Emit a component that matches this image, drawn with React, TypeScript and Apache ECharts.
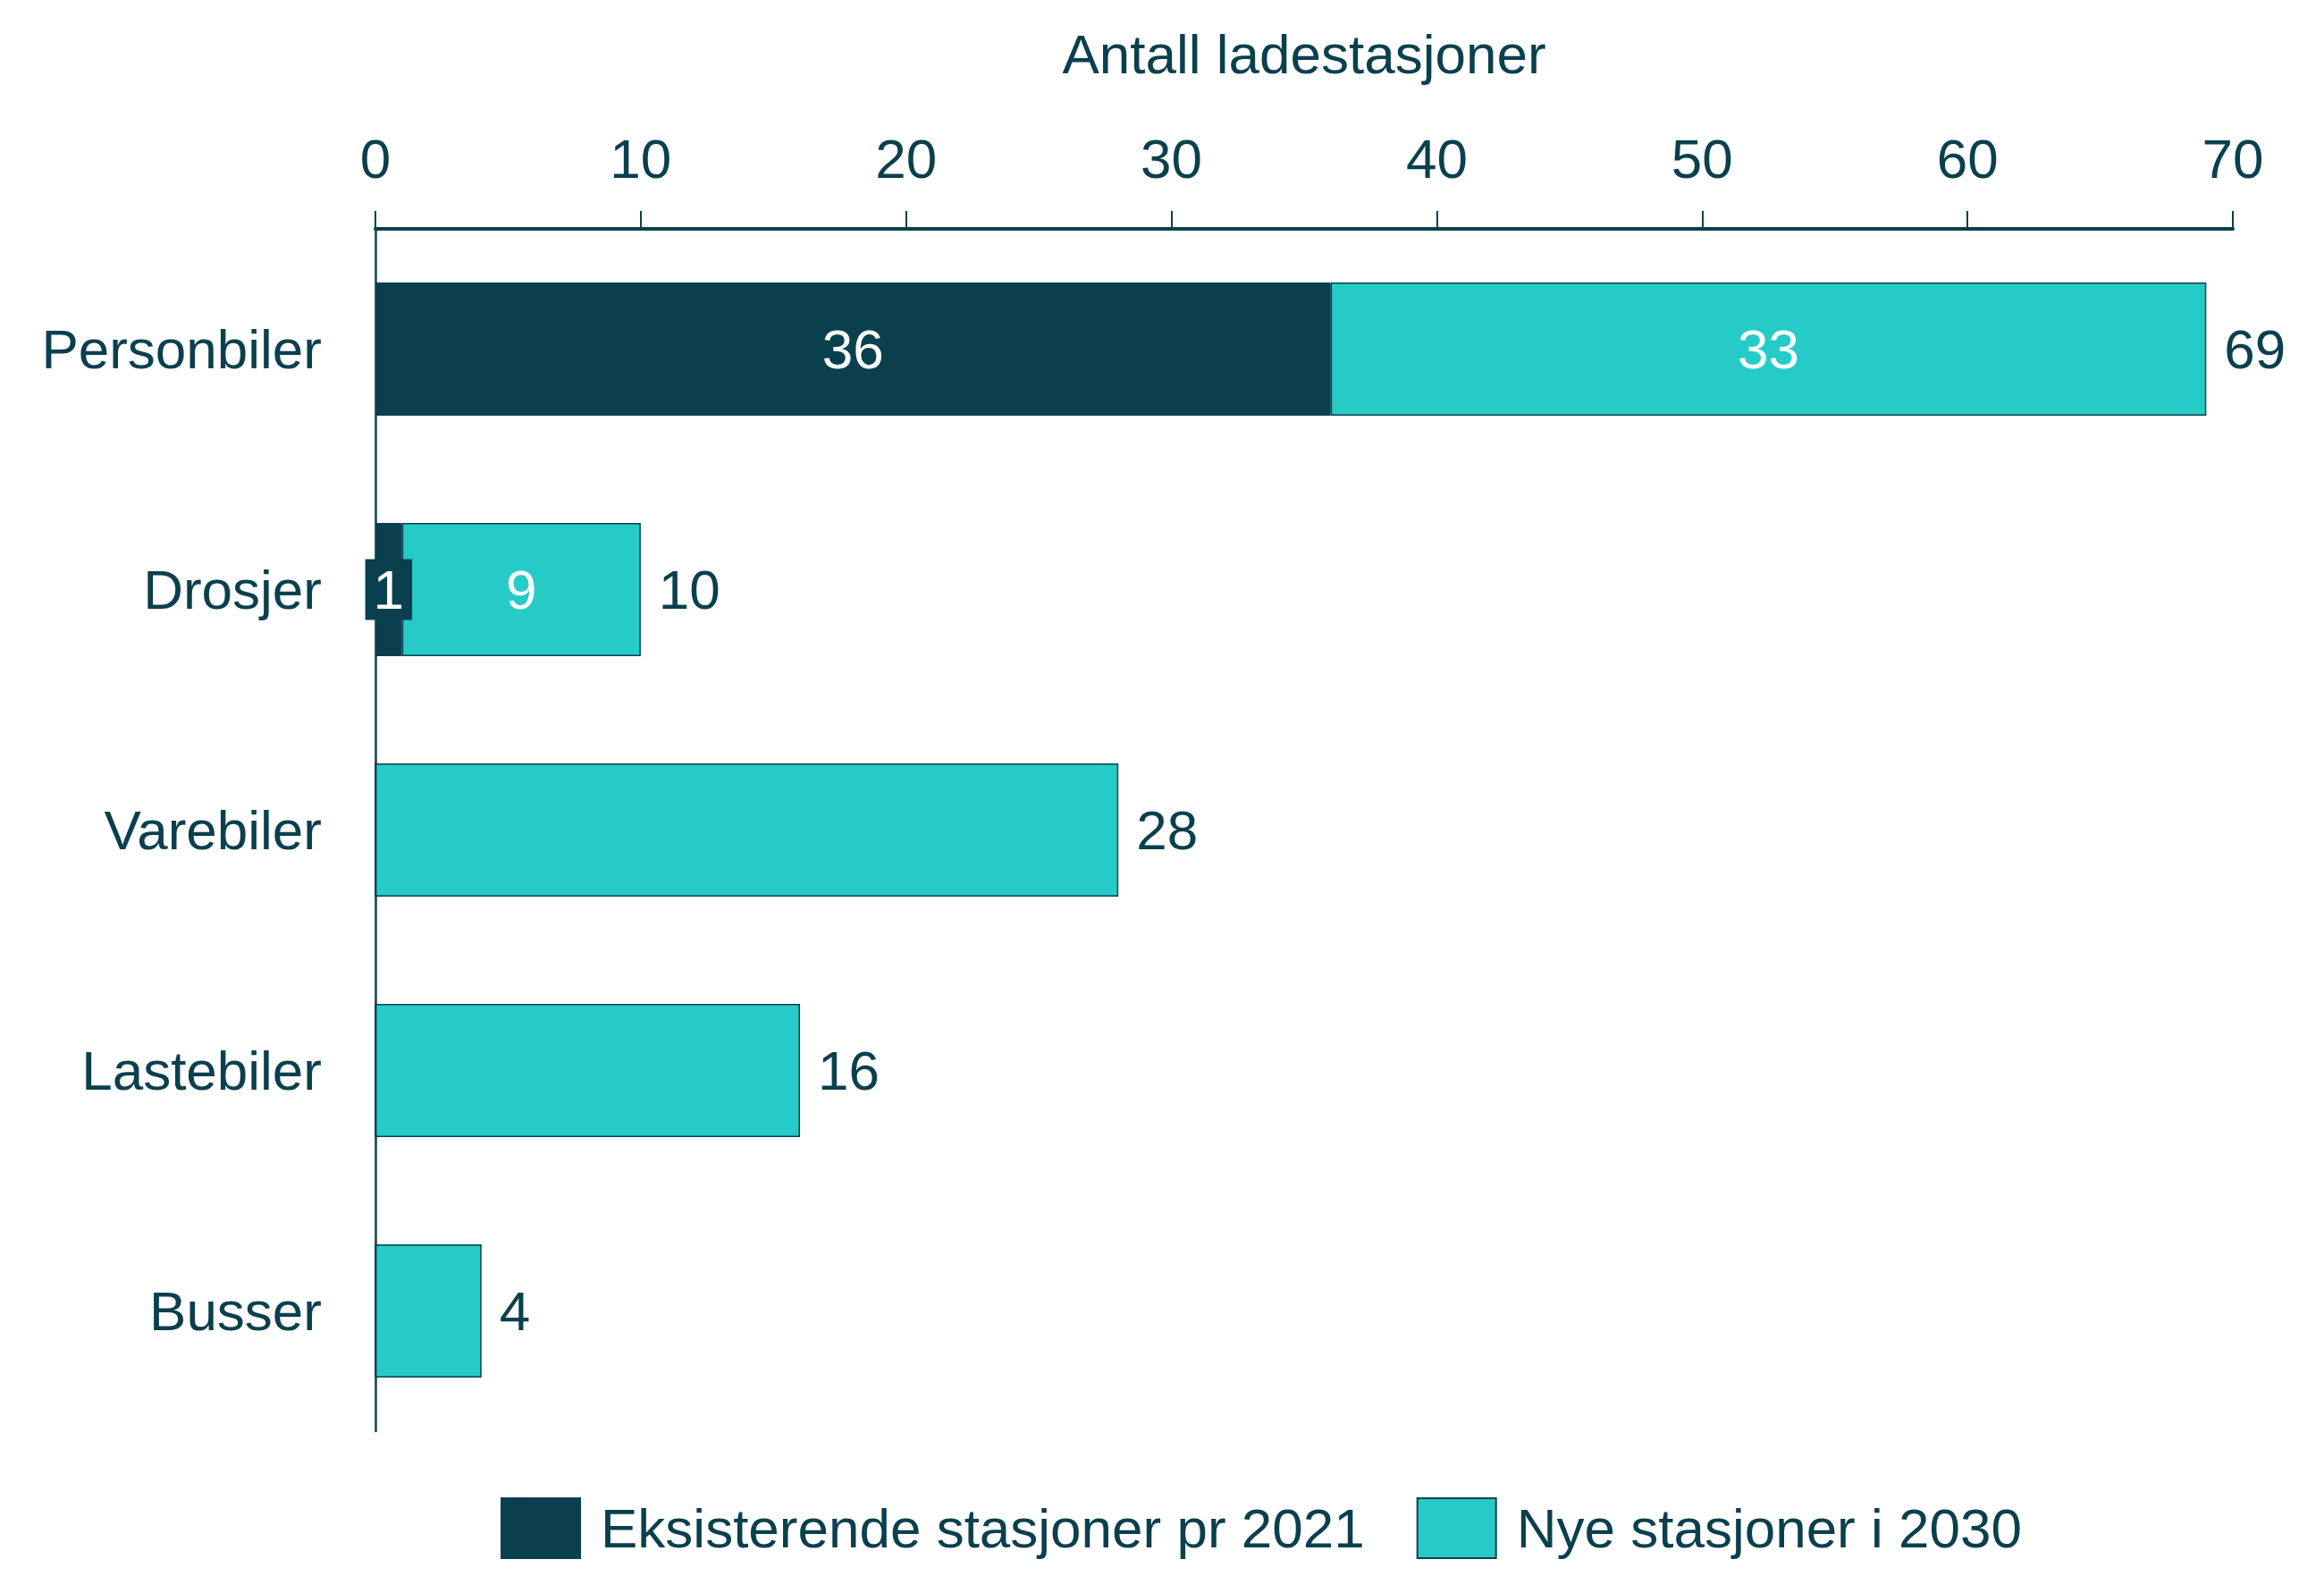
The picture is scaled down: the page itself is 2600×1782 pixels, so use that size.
import React, { useEffect, useRef } from "react";
import * as echarts from "echarts";

const categories = ["Personbiler", "Drosjer", "Varebiler", "Lastebiler", "Busser"];
const existing = [36, 1, 0, 0, 0];
const newer = [33, 9, 28, 16, 4];
const totals = [69, 10, 28, 16, 4];
const seriesNames = ["Eksisterende stasjoner pr 2021", "Nye stasjoner i 2030"];
const axisTitle = "Antall ladestasjoner";

const DARK = "#0A404D";
const TEAL = "#26CBC7";
const FONT = "'Liberation Sans', Arial, sans-serif";
const FS = 62;

export default function App() {
  const ref = useRef<HTMLDivElement>(null);
  useEffect(() => {
    if (!ref.current) return;
    const chart = echarts.init(ref.current, undefined, { renderer: "svg" });
    chart.setOption({
      animation: false,
      backgroundColor: "#ffffff",
      textStyle: { fontFamily: FONT, color: DARK },
      grid: { left: 420, right: 102, top: 256, bottom: 181, containLabel: false },
      legend: {
        data: seriesNames,
        left: 555,
        top: 1670,
        icon: "rect",
        itemWidth: 88,
        itemHeight: 67,
        itemGap: 58,
        textStyle: { fontSize: FS, color: DARK, fontFamily: FONT, padding: [0, 0, 0, 18] },
      },
      xAxis: {
        type: "value",
        position: "top",
        min: 0,
        max: 70,
        interval: 10,
        name: axisTitle,
        nameLocation: "middle",
        nameGap: 165,
        nameTextStyle: { fontSize: FS, color: DARK, fontFamily: FONT },
        axisLine: { show: true, lineStyle: { color: DARK, width: 4 } },
        axisTick: { show: true, inside: false, length: 20, lineStyle: { color: DARK, width: 2 } },
        axisLabel: { fontSize: FS, color: DARK, fontFamily: FONT, margin: 48 },
        splitLine: { show: false },
      },
      yAxis: {
        type: "category",
        data: categories,
        inverse: true,
        axisLine: { show: true, lineStyle: { color: DARK, width: 2.5 } },
        axisTick: { show: false },
        axisLabel: { fontSize: FS, color: DARK, fontFamily: FONT, margin: 60 },
        splitLine: { show: false },
      },
      series: [
        {
          name: seriesNames[0],
          type: "bar",
          stack: "total",
          barCategoryGap: "44.6%",
          itemStyle: { color: DARK, borderColor: DARK, borderWidth: 1 },
          data: existing.map((v) => ({
            value: v,
            label: {
              show: v > 0,
              position: "inside",
              color: "#ffffff",
              fontSize: FS,
              fontFamily: FONT,
              backgroundColor: DARK,
              padding: [3, 9],
            },
          })),
        },
        {
          name: seriesNames[1],
          type: "bar",
          stack: "total",
          barCategoryGap: "44.6%",
          itemStyle: { color: TEAL, borderColor: DARK, borderWidth: 1.5 },
          data: newer.map((v, i) => ({
            value: v,
            label: {
              show: existing[i] > 0,
              position: "inside",
              color: "#ffffff",
              fontSize: FS,
              fontFamily: FONT,
            },
          })),
        },
        {
          name: "total",
          type: "scatter",
          symbolSize: 0,
          silent: true,
          itemStyle: { opacity: 1, color: DARK },
          data: totals.map((t, i) => [t, i]),
          label: {
            show: true,
            position: "right",
            distance: 20,
            color: DARK,
            opacity: 1,
            fontSize: FS,
            fontFamily: FONT,
            formatter: (p: any) => String(p.value[0]),
          },
        },
      ],
    });
    return () => chart.dispose();
  }, []);
  return (
    <div
      ref={ref}
      style={{ position: "absolute", left: 0, top: 0, width: 2600, height: 1782, background: "#fff" }}
    />
  );
}
